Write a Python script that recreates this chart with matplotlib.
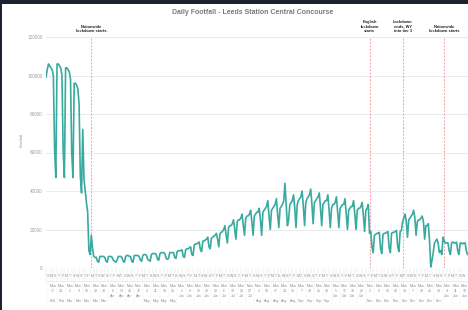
import matplotlib
matplotlib.use("Agg")
import matplotlib.pyplot as plt
import matplotlib.dates as mdates
from matplotlib.patches import Rectangle
import numpy as np
import pandas as pd

plt.rcParams['font.family'] = ['Liberation Sans', 'DejaVu Sans']

# ---------- Daily footfall (thousands) ----------
feb20 = [99, 103, 106, 105, 104, 103, 100, 62, 47, 106, 106, 105, 104, 100, 61]
mar20 = [47, 104, 104, 103, 102, 98, 60, 47, 96, 96, 95, 93, 85, 48, 39, 72,
         46, 40, 34, 29, 9, 7, 17, 10, 6, 5.5, 5.5, 3.5, 3, 6, 6]
apr20 = [6, 6, 5.5, 3.5, 3, 6, 6, 6, 5.5, 4, 3.5, 3, 4, 6, 6, 6, 5.5, 3.5, 3,
         6, 6.5, 6.5, 6, 6, 3.5, 3, 6.5, 6.5, 6.5, 6.5]
may20 = [6, 4, 3.5, 6.5, 7, 7, 6.5, 4.5, 4, 3.5, 7, 7.5, 7.5, 7.5, 7, 4.5, 4,
         7.5, 8, 8, 8, 7.5, 5, 4.5, 5, 8, 8, 8, 8, 5.5, 5]
jun20 = [8.5, 9, 9, 9, 9.5, 6, 5.5, 9.5, 10, 10, 10.5, 11, 7, 6.5, 12, 12.5,
         12.5, 13, 13.5, 9.5, 8.5, 14, 14, 14.5, 15, 16, 11, 10, 15.5, 16]
jul20 = [16.5, 17, 18, 15, 11, 18, 18.5, 19, 20, 22, 17, 13, 21, 22, 22, 23,
         25, 20, 15, 24, 25, 25, 26, 28, 22, 17, 26, 27, 27, 28, 30]
aug20 = [24, 17, 27, 28, 29, 29, 31, 25, 17, 29, 30, 31, 32, 35, 27, 20, 30,
         31, 32, 33, 36, 28, 21, 31, 32, 33, 35, 44, 33, 22, 25]
sep20 = [33, 34, 35, 38, 31, 21, 33, 35, 36, 37, 40, 32, 22, 34, 36, 37, 38,
         41, 33, 23, 34, 35, 36, 37, 39, 31, 22, 33, 34, 35]
oct20 = [35, 38, 30, 21, 31, 33, 33, 34, 37, 29, 21, 31, 32, 33, 33, 36, 28,
         20, 30, 31, 32, 32, 35, 28, 20, 30, 31, 31, 32, 34, 27]
nov20 = [19, 30, 31, 33, 18, 19, 11, 8, 17, 17.5, 18, 18, 18.5, 10, 7.5, 17.5,
         18, 18, 18.5, 19, 10.5, 8, 18, 18.5, 18.5, 19, 19.5, 11, 8.5, 19]
dec20 = [19.5, 24, 26, 28, 24, 16, 25, 26, 27, 28, 30, 26, 17, 24, 25, 25, 26,
         27, 24, 15, 22, 22, 23, 14, 0.5, 4, 8, 13, 14, 15, 13]
jan21 = [8, 9, 7, 16, 14, 13, 13, 13, 9, 7, 13, 13.5, 13, 13, 13.5, 9, 7, 13,
         13, 12.5, 13, 13, 9, 7]

start_date = "2020-02-15"

# ---------- Events ----------
event_dates = ["2020-03-23", "2020-11-05", "2020-12-02", "2021-01-05"]
event_labels = ["Nationwide\nlockdown starts.", "English\nlockdown\nstarts",
                "Lockdown\nends, WY\ninto tier 3", "Nationwide\nlockdown starts"]

y_ticks = [0, 20000, 40000, 60000, 80000, 100000, 120000]
upper_months = ["Apr", "Jun", "Jul", "Oct", "Jan"]

# ---------- Build series ----------
values = np.array(feb20 + mar20 + apr20 + may20 + jun20 + jul20 + aug20 +
                  sep20 + oct20 + nov20 + dec20 + jan21) * 1000
dates = pd.date_range(start_date, periods=len(values), freq="D")
xs = mdates.date2num(dates.to_pydatetime())
t0 = xs[0]
t_end = t0 + 346
t_vis = t0 + 343   # last x still fully inside the picture

# ---------- Figure ----------
fig = plt.figure(figsize=(4.68, 3.10), dpi=100)
fig.patch.set_facecolor("#1c2230")
fig.add_artist(Rectangle((2 / 468, 0), 1, (310 - 4) / 310, transform=fig.transFigure,
                         facecolor="white", edgecolor="none", zorder=-10))

ax = fig.add_axes([46 / 468, 42 / 310, 424 / 468, 231 / 310])
ax.set_facecolor("none")
ax.plot(xs, values, color="#38aa9f", lw=1.2, solid_joinstyle="round", zorder=3)

ax.set_xlim(t0, t_end)
ax.set_ylim(0, 120000)
ax.set_yticks(y_ticks)
ax.set_yticklabels([str(v) for v in y_ticks])
ax.tick_params(axis="y", length=0, labelsize=3.4, labelcolor="#a0a0a0", pad=2.5)
ax.set_xticks([])
ax.yaxis.grid(True, color="#e6e6e6", lw=0.6)
for s in ax.spines.values():
    s.set_visible(False)

trans = ax.get_xaxis_transform()

# ---------- Event lines + notes ----------
for d, lab in zip(event_dates, event_labels):
    xd = mdates.datestr2num(d)
    ax.axvline(xd, color="#f0a0a5", lw=0.7, ls=(0, (2, 1.5)), zorder=2)
    ax.annotate(lab, xy=(xd, 1), xycoords=trans,
                xytext=(0, 4), textcoords="offset pixels", ha="center", va="bottom",
                fontsize=2.9, color="#222222", fontweight="bold", linespacing=1.1,
                annotation_clip=False)

# ---------- Category axis (day letters / weeks / months) ----------
px = 1 / 231.0
day_letters = ["M", "T", "W", "T", "F", "S", "S"]
grey = "#8c8c8c"
line_grey = "#dddddd"

# day letter row
for i in range(0, 116):
    d = t0 + 3 * i
    if d + 1.5 > t_vis:
        break
    wd = mdates.num2date(d + 1).weekday()
    ax.text(d + 1.5, -8 * px, day_letters[wd], transform=trans, ha="center",
            va="center", fontsize=2.5, color=grey, clip_on=False)
    ax.plot([d, d], [0, -13 * px], transform=trans, color=line_grey, lw=0.3,
            clip_on=False)
ax.plot([t0, t_end], [-13 * px, -13 * px], transform=trans,
        color=line_grey, lw=0.4, clip_on=False)

# weekly labels
mondays = pd.date_range("2020-02-17", "2021-01-25", freq="7D")
for m in mondays:
    xm = mdates.date2num(m.to_pydatetime())
    c = xm + 3.5
    if xm < t_end:
        ax.plot([xm, xm], [-13 * px, -36 * px], transform=trans, color="#eeeeee",
                lw=0.3, clip_on=False)
    if c > t_vis:
        continue
    mon = m.strftime("%b")
    ax.text(c, -18 * px, "Mon", transform=trans, ha="center", va="center",
            fontsize=2.5, color=grey, clip_on=False)
    ax.text(c, -23 * px, str(m.day), transform=trans, ha="center", va="center",
            fontsize=2.5, color=grey, clip_on=False)
    yy = -28 * px if mon in upper_months else -33 * px
    ax.text(c, yy, mon, transform=trans, ha="center", va="center",
            fontsize=2.5, color=grey, clip_on=False)

# ---------- Titles ----------
fig.text(253 / 468, 1 - 13 / 310, "Daily Footfall - Leeds Station Central Concourse",
         ha="center", va="center", fontsize=5, fontweight="bold", color="#7a7a7a")
fig.text(22 / 468, 1 - 140 / 310, "Footfall", rotation=90, ha="center", va="center",
         fontsize=3.2, color="#9a9a9a")

fig.savefig("out.png", dpi=100)
